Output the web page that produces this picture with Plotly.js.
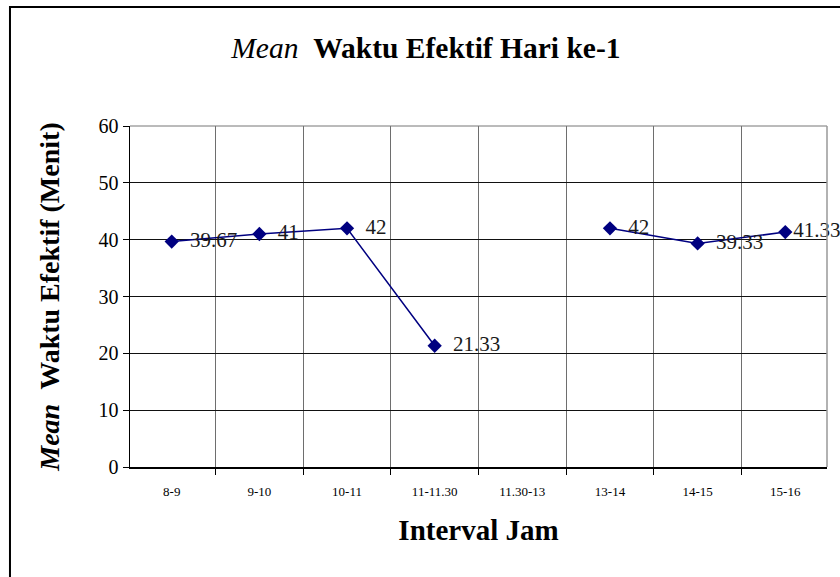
<!DOCTYPE html>
<html>
<head>
<meta charset="utf-8">
<script src="https://cdn.plot.ly/plotly-3.0.1.min.js"></script>
<style>
html,body{margin:0;padding:0;background:#fff;}
#chart{width:840px;height:577px;}
</style>
</head>
<body>
<div id="chart"></div>
<script>
const categories = ["8-9", "9-10", "10-11", "11-11.30", "11.30-13", "13-14", "14-15", "15-16"];
const meanValues = [39.67, 41, 42, 21.33, null, 42, 39.33, 41.33];
const valueLabels = ["39.67", "41", "42", "21.33", "", "42", "39.33", "41.33"];
const yTicks = [0, 10, 20, 30, 40, 50, 60];

const SERIF = '"Liberation Serif", "Times New Roman", Times, serif';

const trace = {
  x: categories,
  y: meanValues,
  text: valueLabels.map((s, i) => s ? (i === valueLabels.length - 1 ? '' : '\u00a0\u00a0') + s : s),
  type: 'scatter',
  mode: 'lines+markers+text',
  connectgaps: false,
  textposition: 'middle right',
  textfont: {family: SERIF, size: 21, color: '#1a1a1a'},
  line: {color: '#000080', width: 1.5},
  marker: {symbol: 'diamond', size: 11, color: '#000080'},
  cliponaxis: false,
  hoverinfo: 'x+y'
};

const layout = {
  width: 840, height: 577,
  margin: {l: 130, r: 13, t: 126, b: 110},
  paper_bgcolor: '#fff', plot_bgcolor: '#fff',
  showlegend: false,
  font: {family: SERIF, color: '#000'},
  title: {
    text: '<i>Mean</i>\u00a0\u00a0<b>Waktu Efektif Hari ke-1</b>',
    font: {family: SERIF, size: 29.5, color: '#000'},
    x: 0.507, xanchor: 'center', y: 0.917, yanchor: 'middle'
  },
  xaxis: {
    type: 'category',
    tickson: 'boundaries',
    ticks: 'outside', ticklen: 6, tickcolor: '#000',
    ticklabelstandoff: 12,
    showgrid: true, gridcolor: '#6e6e6e', gridwidth: 1,
    showline: true, linecolor: '#000', linewidth: 1.5,
    tickfont: {family: SERIF, size: 13, color: '#000'},
    title: {text: '<b>Interval Jam</b>', font: {family: SERIF, size: 29, color: '#000'}, standoff: 21},
    fixedrange: true
  },
  yaxis: {
    range: [0, 60],
    tickvals: yTicks,
    ticks: 'outside', ticklen: 6, tickcolor: '#000',
    showgrid: true, gridcolor: '#111', gridwidth: 1,
    zeroline: false,
    showline: true, linecolor: '#000', linewidth: 1.5,
    tickfont: {family: SERIF, size: 20, color: '#000'},
    title: {text: '<b><i>Mean</i>\u00a0\u00a0Waktu Efektif (Menit)</b>', font: {family: SERIF, size: 28, color: '#000'}, standoff: 30},
    fixedrange: true
  },
  shapes: [
    {type: 'rect', xref: 'paper', yref: 'paper', x0: -0.1722, x1: 1.5, y0: -1, y1: 1.349,
     line: {color: '#000', width: 2}, fillcolor: 'rgba(0,0,0,0)', layer: 'below'},
    {type: 'line', xref: 'paper', yref: 'paper', x0: 0, x1: 1, y0: 1, y1: 1, line: {color: '#777', width: 1}},
    {type: 'line', xref: 'paper', yref: 'paper', x0: 1, x1: 1, y0: 0, y1: 1, line: {color: '#999', width: 1.5}}
  ]
};

Plotly.newPlot('chart', [trace], layout, {displayModeBar: false, staticPlot: true});
</script>
</body>
</html>
